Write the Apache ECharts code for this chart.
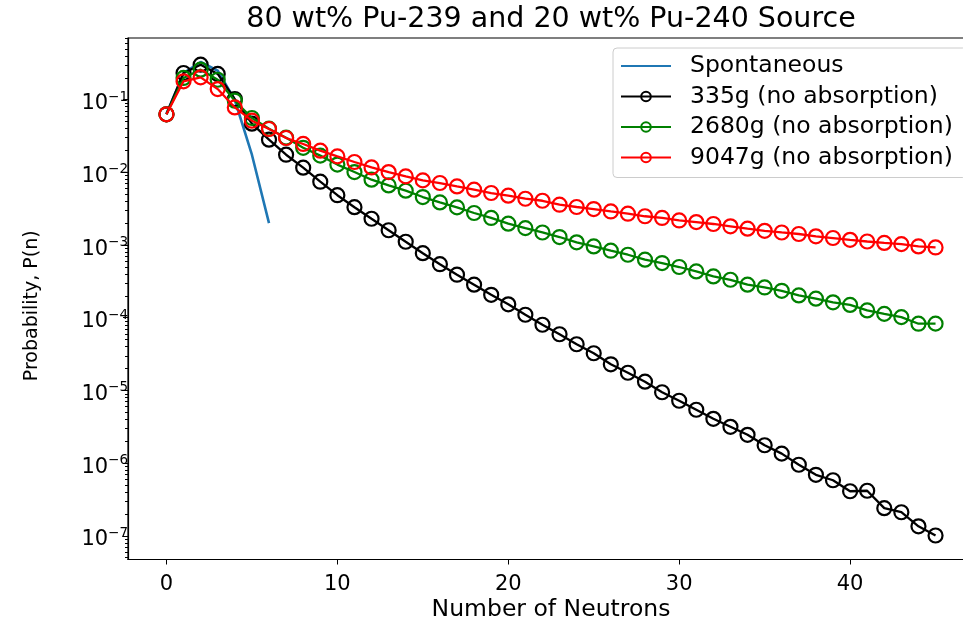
<!DOCTYPE html>
<html><head><meta charset="utf-8">
<script src="https://cdn.jsdelivr.net/npm/echarts@6/dist/echarts.min.js"></script>
<style>html,body{margin:0;padding:0;background:#fff}#c{width:963px;height:619px}</style>
</head><body><div id="c"></div>
<script>
const FONT = 'DejaVu Sans';
const chartTitle = '80 wt% Pu-239 and 20 wt% Pu-240 Source';
const xAxisName = 'Number of Neutrons';
const yAxisName = 'Probability, P(n)';
const seriesNames = ['Spontaneous', '335g (no absorption)', '2680g (no absorption)', '9047g (no absorption)'];
const seriesColors = ['#1f77b4', '#000000', '#008000', '#ff0000'];

const neutrons = [0,1,2,3,4,5,6,7,8,9,10,11,12,13,14,15,16,17,18,19,20,21,22,23,24,25,26,27,28,29,30,31,32,33,34,35,36,37,38,39,40,41,42,43,44,45];
const spontaneous = [0.064, 0.232, 0.33, 0.25, 0.099, 0.0175, 0.002];
const m335 = [0.063,0.233,0.303,0.226,0.102,0.0468,0.0282,0.0175,0.0116,0.00744,0.00485,0.00332,0.0023,0.0016,0.00111,0.000773,0.000545,0.000391,0.000285,0.000207,0.000153,0.00011,8.01e-5,5.93e-5,4.32e-5,3.25e-5,2.29e-5,1.75e-5,1.32e-5,9.44e-6,7.21e-6,5.42e-6,4.07e-6,3.16e-6,2.45e-6,1.76e-6,1.35e-6,9.49e-7,6.91e-7,5.81e-7,4.1e-7,4.17e-7,2.4e-7,2.11e-7,1.35e-7,1.01e-7];
const m2680 = [0.063,0.199,0.259,0.188,0.0969,0.056,0.0399,0.03,0.0218,0.017,0.0128,0.0101,0.00793,0.00662,0.0056,0.00458,0.00386,0.0033,0.00276,0.00236,0.00197,0.00171,0.00149,0.00129,0.00109,0.000958,0.000836,0.000736,0.000629,0.000566,0.000499,0.000434,0.00037,0.000333,0.000285,0.000261,0.000235,0.000203,0.000183,0.000163,0.00015,0.000126,0.000113,0.000102,8.28e-5,8.3e-5];
const m9047 = [0.063,0.179,0.203,0.14,0.0783,0.0514,0.0395,0.0297,0.0246,0.0199,0.0166,0.0139,0.0117,0.0101,0.00881,0.00776,0.00714,0.00641,0.00578,0.0052,0.00478,0.00434,0.00407,0.00359,0.00334,0.00313,0.0029,0.0027,0.00249,0.00236,0.00218,0.00207,0.00195,0.00181,0.00168,0.00157,0.00149,0.00142,0.00132,0.00125,0.00118,0.00112,0.00107,0.00103,0.000958,0.000927];

const xTickValues = [0, 10, 20, 30, 40];
const xTickLabels = ['0', '10', '20', '30', '40'];
const yTickValues = [1e-7, 1e-6, 1e-5, 1e-4, 1e-3, 1e-2, 1e-1];
const yTickExponents = ['\u22127', '\u22126', '\u22125', '\u22124', '\u22123', '\u22122', '\u22121'];
const yMinorMantissas = [2, 3, 4, 5, 6, 7, 8, 9];
const yMinorDecades = [1e-8, 1e-7, 1e-6, 1e-5, 1e-4, 1e-3, 1e-2, 1e-1];
const xRange = [-2.25, 47.25];
const yRange = [4.72e-8, 0.706];

const yMinorValues = [];
yMinorDecades.forEach(d => yMinorMantissas.forEach(m => yMinorValues.push(+(m * d).toPrecision(3))));

function pairs(arr) { return arr.map((v, i) => [neutrons[i], v]); }
function yLabel(v) {
  let best = 0, bd = Infinity;
  yTickValues.forEach((t, i) => { const d = Math.abs(Math.log10(t) - Math.log10(v)); if (d < bd) { bd = d; best = i; } });
  return '{b|10}{s|' + yTickExponents[best] + '}';
}
function xLabel(v) {
  const i = xTickValues.indexOf(v);
  return i >= 0 ? xTickLabels[i] : '';
}

const dataSets = [spontaneous, m335, m2680, m9047];
const series = dataSets.map((arr, k) => {
  const s = {
    name: seriesNames[k], type: 'line', data: pairs(arr), z: 2 + k,
    lineStyle: { color: seriesColors[k], width: k === 0 ? 2.6 : 2.3 },
    itemStyle: { color: 'rgba(0,0,0,0)', borderColor: seriesColors[k], borderWidth: k === 0 ? 0 : 2.2 },
    emphasis: { disabled: true }, silent: true
  };
  if (k === 0) { s.symbol = 'none'; s.showSymbol = false; }
  else { s.symbol = 'circle'; s.symbolSize = 14; }
  return s;
});

const chart = echarts.init(document.getElementById('c'));
chart.setOption({
  animation: false,
  backgroundColor: '#fff',
  title: {
    text: chartTitle, left: 551, top: 5, textAlign: 'center', padding: 0,
    textStyle: { fontFamily: FONT, fontSize: 28.5, fontWeight: 'normal', color: '#000' }
  },
  legend: {
    orient: 'vertical', left: 613, top: 48, z: 10,
    padding: [6, 14, 8, 7], itemGap: 6.5, itemWidth: 50, itemHeight: 12,
    backgroundColor: 'rgba(255,255,255,0.85)', borderColor: '#cccccc', borderWidth: 1, borderRadius: 4,
    textStyle: { fontFamily: FONT, fontSize: 23.5, color: '#000', lineHeight: 23, padding: [0, 0, 0, 14] },
    data: seriesNames
  },
  grid: {
    left: 128, top: 38, width: 846, height: 521.5, show: true,
    outerBoundsMode: 'none', containLabel: false,
    borderColor: '#000', borderWidth: 1.2, backgroundColor: 'rgba(0,0,0,0)'
  },
  xAxis: {
    type: 'value', min: xRange[0], max: xRange[1],
    axisLine: { show: true, onZero: false, lineStyle: { color: '#000', width: 1.2 } },
    axisTick: { show: true, customValues: xTickValues, length: 5, lineStyle: { color: '#000', width: 1 } },
    axisLabel: { customValues: xTickValues, formatter: xLabel, margin: 15, fontFamily: FONT, fontSize: 21, color: '#000' },
    splitLine: { show: false },
    name: xAxisName, nameLocation: 'middle', nameGap: 38, nameMoveOverlap: false,
    nameTextStyle: { fontFamily: FONT, fontSize: 23.5, color: '#000' }
  },
  yAxis: [{
    type: 'log', logBase: 10, min: yRange[0], max: yRange[1], position: 'left',
    axisLine: { show: true, onZero: false, lineStyle: { color: '#000', width: 1.2 } },
    axisTick: { show: true, customValues: yTickValues, length: 5, lineStyle: { color: '#000', width: 1 } },
    axisLabel: {
      customValues: yTickValues, formatter: yLabel, margin: 0, color: '#000', padding: [5, 0, 0, 0],
      rich: {
        b: { fontFamily: FONT, fontSize: 21, color: '#000', lineHeight: 24, verticalAlign: 'bottom' },
        s: { fontFamily: FONT, fontSize: 13.5, color: '#000', lineHeight: 17, verticalAlign: 'top' }
      }
    },
    splitLine: { show: false }, minorTick: { show: false },
    name: yAxisName, nameLocation: 'middle', nameGap: 86, nameMoveOverlap: false,
    nameTextStyle: { fontFamily: FONT, fontSize: 19, color: '#000', padding: [0, 14, 0, 0] }
  }, {
    type: 'log', logBase: 10, min: yRange[0], max: yRange[1], position: 'left', offset: 0,
    axisLine: { show: false, onZero: false },
    axisTick: { show: true, customValues: yMinorValues, length: 3, lineStyle: { color: '#000', width: 1 } },
    axisLabel: { show: false }, splitLine: { show: false }
  }],
  series: series
});
</script>
</body></html>
